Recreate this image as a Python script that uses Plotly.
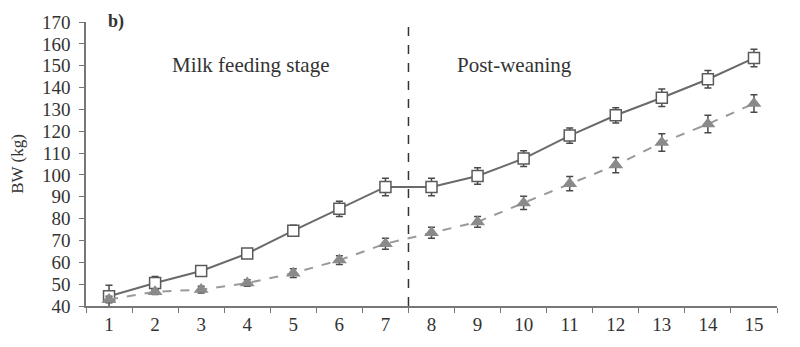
import plotly.graph_objects as go

weeks = [str(i) for i in range(1, 16)]
bw_a = [44.5, 50.5, 56, 64, 74.5, 84.5, 94.5, 94.5, 99.5, 107.5, 118, 127.3, 135.3, 143.8, 153.5]
err_a = [5, 3, 2, 2, 2.5, 3.5, 4, 4, 3.8, 3.6, 3.5, 3.5, 4, 4, 4]
bw_b = [43, 46.5, 47.5, 50.5, 55, 61, 68.5, 73.5, 78.5, 87.2, 96, 104.5, 114.8, 123.3, 132.7]
err_b = [1.5, 1.2, 1.5, 1.5, 2, 2, 2.5, 2.5, 2.5, 3, 3.3, 3.5, 4, 4, 4]
yticks = list(range(40, 171, 10))

fig = go.Figure()
fig.add_trace(go.Scatter(
    x=weeks, y=bw_a, mode="lines+markers",
    line=dict(color="#6a6a6a", width=2),
    marker=dict(symbol="square", size=11, color="white", line=dict(color="#5a5a5a", width=1.5)),
    error_y=dict(type="data", array=err_a, color="#4a4a4a", thickness=1.5, width=3.5),
    showlegend=False))
fig.add_trace(go.Scatter(
    x=weeks, y=bw_b, mode="lines+markers",
    line=dict(color="#9a9a9a", width=2, dash="dash"),
    marker=dict(symbol="triangle-up", size=13, color="#8a8a8a", line=dict(width=0)),
    error_y=dict(type="data", array=err_b, color="#4a4a4a", thickness=1.5, width=3.5),
    showlegend=False))

fig.add_shape(type="line", xref="x", yref="paper", x0=6.5, x1=6.5, y0=0, y1=1.01,
              line=dict(color="#333333", width=1.5, dash="dash"))

fnt = dict(family="Liberation Serif, Times New Roman, serif", color="#333333")
fig.add_annotation(text="Milk feeding stage", x=0.238, y=0.849, xref="paper", yref="paper",
                   showarrow=False, font=dict(size=21, **fnt), xanchor="center", yanchor="middle")
fig.add_annotation(text="Post-weaning", x=0.62, y=0.849, xref="paper", yref="paper",
                   showarrow=False, font=dict(size=21, **fnt), xanchor="center", yanchor="middle")
fig.add_annotation(text="<b>b)</b>", x=0.029, y=1.003, xref="paper", yref="paper",
                   showarrow=False, font=dict(size=18, **fnt), xanchor="left", yanchor="middle")

fig.update_layout(
    width=800, height=347,
    margin=dict(l=86, r=23, t=14, b=41),
    plot_bgcolor="white", paper_bgcolor="white",
    font=dict(size=18, **fnt),
    xaxis=dict(type="category", tickson="boundaries", ticks="outside", ticklen=5,
               tickcolor="#777777", showline=True, linecolor="#777777", linewidth=1.5,
               showgrid=False, range=[-0.5, 14.5], tickfont=dict(size=19, **fnt)),
    yaxis=dict(range=[40, 170], tickvals=yticks, ticks="outside", ticklen=5,
               tickcolor="#777777", showline=True, linecolor="#777777", linewidth=1.5,
               showgrid=False, zeroline=False, tickfont=dict(size=19, **fnt),
               ticklabelstandoff=5,
               title=dict(text="BW (kg)", font=dict(size=17, **fnt), standoff=14)),
)
fig.write_html("out.html")
